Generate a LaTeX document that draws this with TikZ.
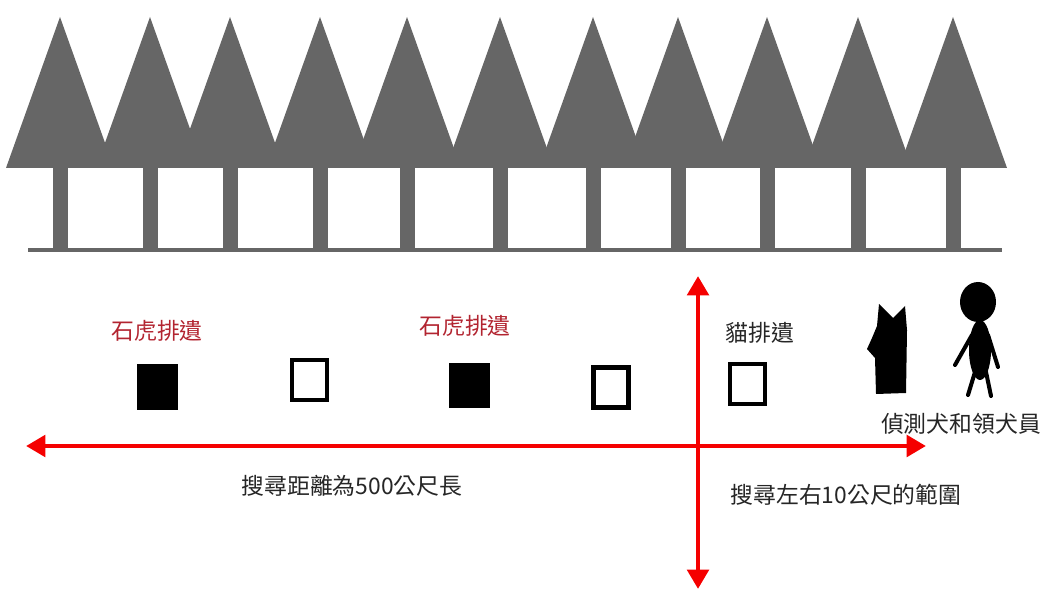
\documentclass[tikz,border=0pt]{standalone}
\usepackage{fontspec}
\usepackage{xcolor}
\newfontfamily\cjk{Noto Sans CJK TC}
\usetikzlibrary{arrows.meta}

\definecolor{treegray}{RGB}{102,102,102}
\definecolor{scatred}{RGB}{178,36,48}
\definecolor{trackred}{RGB}{245,0,0}

\begin{document}
\begin{tikzpicture}[x=0.02cm, y=-0.02cm,
    cjktext/.style={font=\cjk\fontsize{13}{15}\selectfont, text=black!85, inner sep=0pt},
    scatbox/.style={draw=none, fill=black, inner sep=0pt, minimum width=0.82cm, minimum height=0.92cm},
    emptybox/.style={draw=black, fill=white, line width=2.8pt, inner sep=0pt, minimum width=0.7cm, minimum height=0.8cm},
    track/.style={draw=trackred, line width=2.8pt, {Triangle[length=11pt,width=12pt]}-{Triangle[length=11pt,width=12pt]}}]
    \useasboundingbox (0,0) rectangle (1050,590);

    % row of trees
    \foreach \px in {60,150,230,320,407,500,593,678,767,858,953} {
        \fill[treegray] (\px,17) -- (\px+54,168) -- (\px-54,168) -- cycle;
        \fill[treegray] (\px-7.5,165) rectangle (\px+7.5,250);
    }
    \fill[treegray] (28,248) rectangle (1002,252);

    % droppings along the trail
    \node[scatbox] (s1) at (157.5,387) {};
    \node[emptybox] (e1) at (309.5,380) {};
    \node[scatbox] (s2) at (469,385.5) {};
    \node[emptybox] (e2) at (611,387.5) {};
    \node[emptybox] (e3) at (747.5,384) {};

    \node[cjktext, text=scatred] (t1) at (157,331) {石虎排遺};
    \node[cjktext, text=scatred] (t2) at (465,326) {石虎排遺};
    \node[cjktext] (t3) at (760,333) {貓排遺};

    % search axes
    \coordinate (hl) at (26,446);
    \coordinate (hr) at (926,446);
    \coordinate (vt) at (698,276);
    \coordinate (vb) at (698,589);
    \draw[track] (hl) -- (hr);
    \draw[track] (vt) -- (vb);

    \node[cjktext] (dist) at (352,486) {搜尋距離為500公尺長};
    \node[cjktext] (wide) at (846,495) {搜尋左右10公尺的範圍};

    % dog
    \fill[black] (879,304) -- (893,318) -- (905,306) -- (907,330) -- (906,393)
        -- (876,394) -- (875,358) -- (867,349) -- (872,338) -- (877,326) -- cycle;
    % handler
    \fill[black] (978,302) ellipse [x radius=18, y radius=20];
    \fill[black] (980,350) ellipse [x radius=11, y radius=30];
    \draw[line width=2.3pt, line cap=round] (972,335) -- (955,365);
    \draw[line width=2.3pt, line cap=round] (988,335) -- (998,367);
    \draw[line width=2.3pt, line cap=round] (975,372) -- (968,395);
    \draw[line width=2.3pt, line cap=round] (986,372) -- (991,396);

    \node[cjktext] (team) at (961,424) {偵測犬和領犬員};
\end{tikzpicture}
\end{document}
